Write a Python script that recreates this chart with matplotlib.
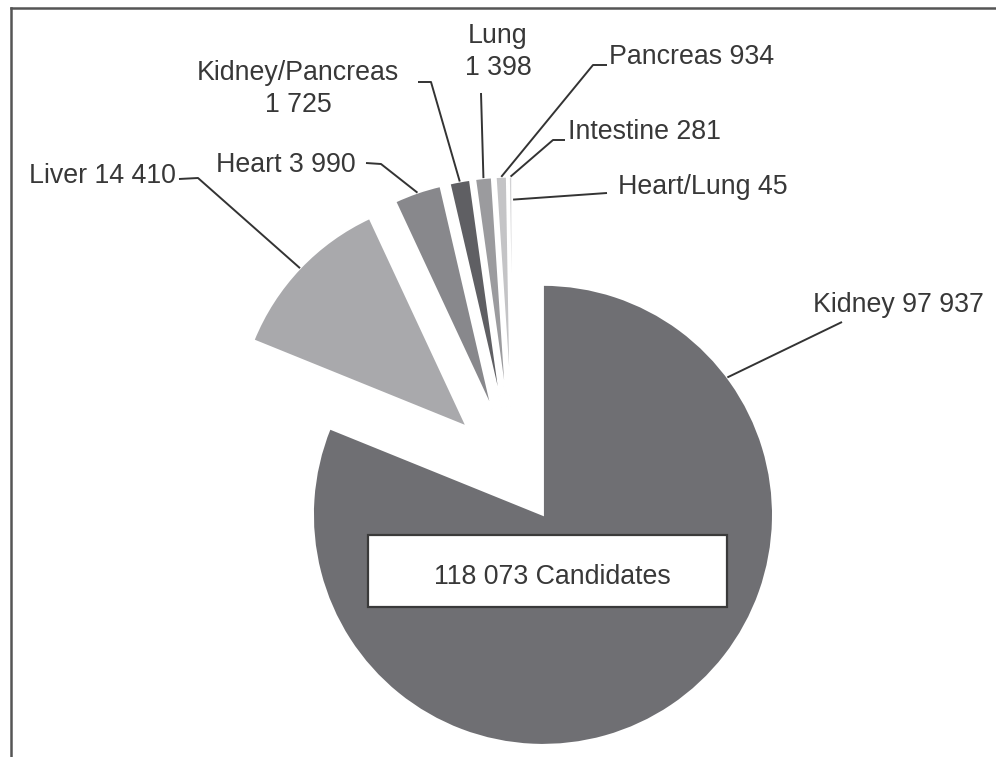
import numpy as np
import matplotlib
matplotlib.use("Agg")
import matplotlib.pyplot as plt
from matplotlib.patches import Rectangle
from matplotlib.lines import Line2D

# ---- data ----
categories = ["Kidney", "Liver", "Heart", "Kidney/Pancreas", "Lung",
              "Pancreas", "Intestine", "Heart/Lung"]
values = [97937, 14410, 3990, 1725, 1398, 934, 281, 45]
total_label = "118 073 Candidates"
two_line = {"Kidney/Pancreas", "Lung"}

colors = ["#6f6f73", "#a9a9ac", "#88888c", "#5f5f63", "#9b9b9e",
          "#c4c4c6", "#d2d2d4", "#e2e2e3"]
explode_frac = [0.23, 0.28, 0.28, 0.28, 0.28, 0.28, 0.28, 0.28]

W, H = 996, 757
plt.rcParams['font.family'] = ['Liberation Sans', 'DejaVu Sans']
fig = plt.figure(figsize=(W / 100, H / 100), dpi=100)
ax = fig.add_axes([0, 0, 1, 1])

def Y(y):  # image row -> data y
    return H - y

R = 230
wedges, _ = ax.pie(values, startangle=90, counterclock=False, colors=colors,
                   explode=[e * R for e in explode_frac], radius=R,
                   center=(513.4, Y(471)),
                   wedgeprops=dict(edgecolor="white", linewidth=1.4))
ax.set_xlim(0, W)
ax.set_ylim(0, H)
ax.set_aspect("equal", adjustable="box")
ax.axis("off")

def fmt(name, v):
    s = f"{v:,}".replace(",", " ")
    return f"{name}\n{s}" if name in two_line else f"{name} {s}"

TXT = "#383838"
FS = 19.3
# layout: text pos (image px), ha, leader points (image px), anchor angle override, radius frac
layout = [
    dict(t=(813, 305), ha="left", pts=[(842, 322)], ang=36.7, rf=1.0),
    dict(t=(176, 176), ha="right", pts=[(179, 179), (198, 178)], ang=None, rf=1.0),
    dict(t=(356, 165), ha="right", pts=[(366, 163), (381, 164)], ang=None, rf=1.0),
    dict(t=(298, 89), ha="center", pts=[(418, 82), (431, 82)], ang=None, rf=1.0),
    dict(t=(498, 52), ha="center", pts=[(481, 93)], ang=None, rf=1.0),
    dict(t=(609, 57), ha="left", pts=[(607, 65), (593, 65)], ang=None, rf=1.0),
    dict(t=(568, 132), ha="left", pts=[(565, 140), (553, 140)], ang=None, rf=1.0),
    dict(t=(618, 187), ha="left", pts=[(607, 193)], ang=None, rf=0.9),
]

for w, name, v, L in zip(wedges, categories, values, layout):
    ang = L["ang"] if L["ang"] is not None else 0.5 * (w.theta1 + w.theta2)
    cx, cy = w.center
    a = np.deg2rad(ang)
    ax_, ay_ = cx + L["rf"] * w.r * np.cos(a), cy + L["rf"] * w.r * np.sin(a)
    xs = [p[0] for p in L["pts"]] + [ax_]
    ys = [Y(p[1]) for p in L["pts"]] + [ay_]
    ax.plot(xs, ys, color="#333333", lw=1.4, solid_capstyle="butt")
    ax.text(L["t"][0], Y(L["t"][1]), fmt(name, v), ha=L["ha"], va="center",
            fontsize=FS, color=TXT, multialignment="center", linespacing=1.3)

# total box
ax.add_patch(Rectangle((368, Y(607)), 359, 72, facecolor="white",
                       edgecolor="#3a3a3a", lw=1.6, zorder=5))
ax.text(552, Y(577), total_label, ha="center", va="center", fontsize=FS,
        color=TXT, zorder=6)

# frame lines (top and left)
fig.add_artist(Line2D([10.5 / W, 1], [1 - 7.5 / H, 1 - 7.5 / H],
                      transform=fig.transFigure, color="#555555", lw=1.8))
fig.add_artist(Line2D([10.5 / W, 10.5 / W], [0, 1 - 7.5 / H],
                      transform=fig.transFigure, color="#555555", lw=1.8))

fig.savefig("out.png", dpi=100, facecolor="white")
